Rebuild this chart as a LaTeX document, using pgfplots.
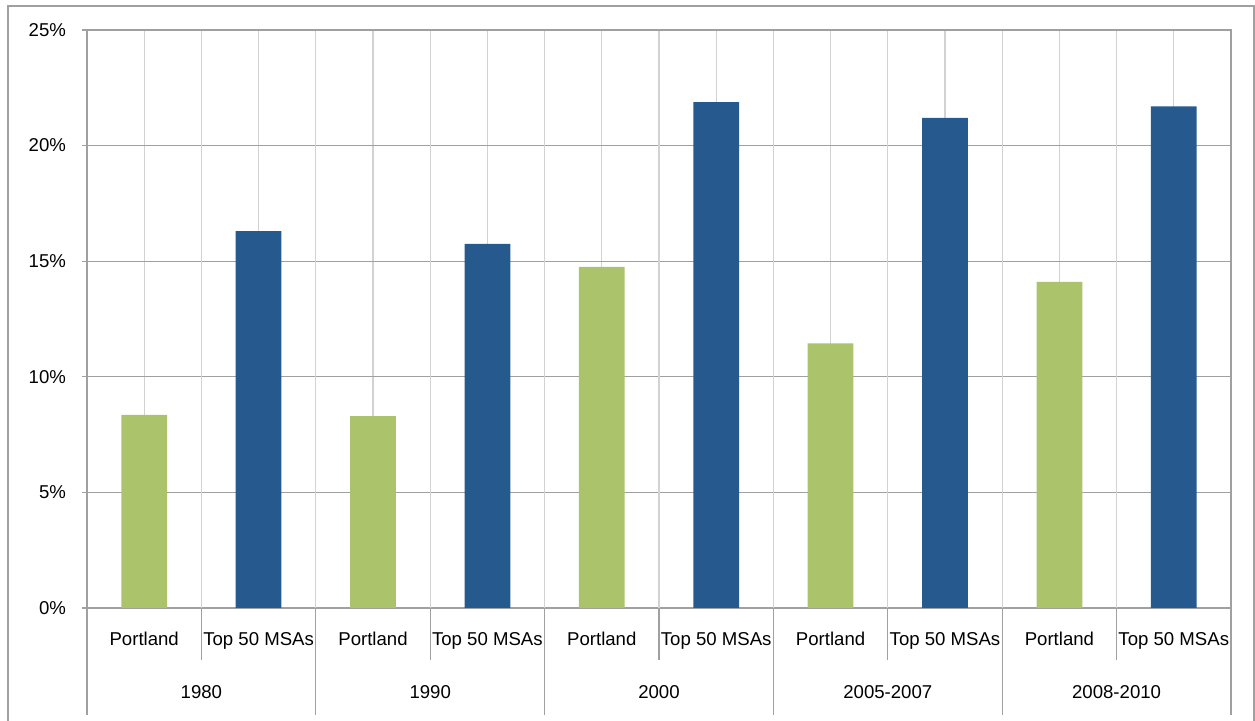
\documentclass[border=0pt]{standalone}
\usepackage{pgfplots}
\pgfplotsset{compat=1.18}
\usepackage{fontspec}
\setmainfont{Liberation Sans}
\definecolor{barGreen}{HTML}{ABC36B}
\definecolor{barBlue}{HTML}{265A8F}
\definecolor{gridDark}{HTML}{A0A0A0}
\definecolor{gridLight}{HTML}{D2D2D2}
\newcommand{\lblfont}{\fontsize{9.3}{10}\selectfont}
\begin{document}
\begin{tikzpicture}[x=1pt,y=1pt]
% one pixel of the layout = 0.5pt
\useasboundingbox (-43.5pt,-56.5pt) rectangle (584pt,304pt);
\begin{axis}[
  scale only axis,
  width=572pt, height=289pt,
  at={(0,0)}, anchor=south west,
  xmin=0, xmax=10, ymin=0, ymax=25,
  ytick={0,5,10,15,20,25},
  yticklabel={\pgfmathprintnumber{\tick}\%},
  /pgf/number format/assume math mode=true,
  ticklabel style={font=\lblfont, text=black},
  yticklabel style={xshift=-4.5pt},
  y tick style={gridDark, line width=0.6pt},
  major tick length=2.5pt,
  tick align=outside,
  ymajorgrids,
  grid style={gridDark, line width=0.6pt},
  xtick={0.5,1.5,...,9.5},
  xticklabels={Portland,Top 50 MSAs,Portland,Top 50 MSAs,Portland,Top 50 MSAs,Portland,Top 50 MSAs,Portland,Top 50 MSAs},
  x tick style={draw=none},
  xmajorgrids,
  x grid style={gridLight, line width=0.6pt},
  xticklabel style={yshift=-6pt},
  extra x ticks={1,2,...,9},
  extra x tick labels={},
  extra x tick style={grid style={gridDark, line width=0.6pt}, x tick style={draw=none}},
  axis line style={gridDark, line width=0.6pt},
  axis x line*=bottom,
  axis y line*=left,
  ybar, bar width=0.4, bar shift=0pt,
  clip=false,
]
% Portland
\addplot[fill=barGreen, draw=none] coordinates {
  (0.5,8.35) (2.5,8.3) (4.5,14.75) (6.5,11.45) (8.5,14.1)};
% Top 50 MSAs
\addplot[fill=barBlue, draw=none] coordinates {
  (1.5,16.3) (3.5,15.75) (5.5,21.88) (7.5,21.2) (9.5,21.7)};
% top and right edges of the plot area
\draw[gridDark, line width=0.6pt] (axis cs:0,25) -- (axis cs:10,25) -- (axis cs:10,0);
% separators in the label band
\pgfplotsinvokeforeach{1,3,5,7,9}{
  \draw[gridDark, line width=0.6pt] (axis cs:#1,0) -- ++(0,-26pt);
}
\pgfplotsinvokeforeach{0,2,4,6,8,10}{
  \draw[gridDark, line width=0.6pt] (axis cs:#1,0) -- ++(0,-53.5pt);
}
% period labels
\node[font=\lblfont] at ([yshift=-42pt]axis cs:1,0) {1980};
\node[font=\lblfont] at ([yshift=-42pt]axis cs:3,0) {1990};
\node[font=\lblfont] at ([yshift=-42pt]axis cs:5,0) {2000};
\node[font=\lblfont] at ([yshift=-42pt]axis cs:7,0) {2005-2007};
\node[font=\lblfont] at ([yshift=-42pt]axis cs:9,0) {2008-2010};
\end{axis}
% outer frame
\draw[gridDark, line width=0.7pt] (-39.5pt,-60pt) -- (-39.5pt,301pt) -- (583.5pt,301pt) -- (583.5pt,-60pt);
\end{tikzpicture}
\end{document}
